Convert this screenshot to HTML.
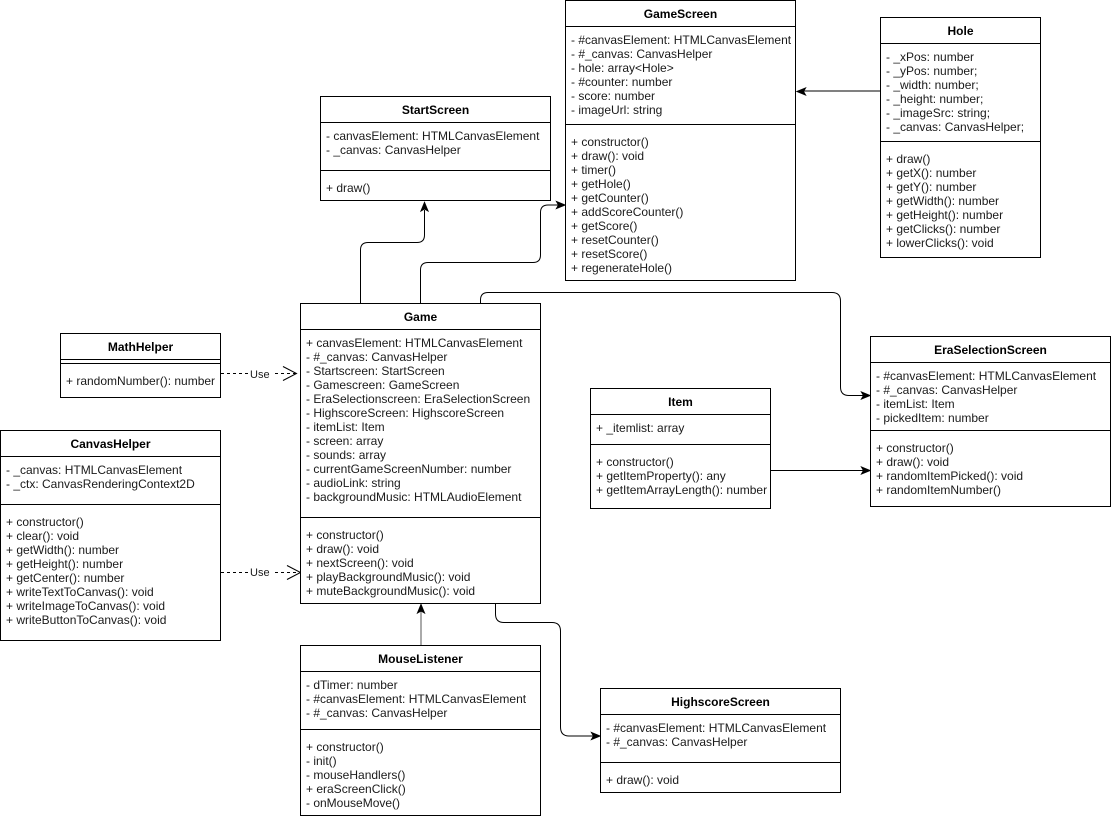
<!DOCTYPE html>
<html>
<head>
<meta charset="utf-8">
<style>
html,body{margin:0;padding:0;background:#fff;width:1111px;height:819px;overflow:hidden}
svg{display:block}
text{font-family:"Liberation Sans",Arial,sans-serif;font-size:12px;fill:#1a1a1a}
text.t{font-weight:bold;text-anchor:middle;fill:#000}
.b{fill:#fff;stroke:#000;stroke-width:1}
.l{stroke:#000;stroke-width:1;fill:none}
.a{fill:#000;stroke:#000;stroke-width:1}
</style>
</head>
<body>
<svg width="1111" height="819" viewBox="0 0 1111 819" xmlns="http://www.w3.org/2000/svg">
<!-- connectors -->
<path class="l" d="M360.5 303V250Q360.5 242.5 368 242.5H417Q424.5 242.5 424.5 235V210"/>
<path class="a" d="M424.5 202.500L428 211L424.500 209L421 211Z"/>
<path class="l" d="M420.500 303V270Q420.500 262.500 428 262.500H533Q540.500 262.500 540.500 255V212.500Q540.500 205 548 205H558"/>
<path class="a" d="M565 205L556.500 208.500L558.500 205L556.500 201.500Z"/>
<path class="l" d="M480.500 303V300Q480.500 292.500 488 292.500H832Q840.500 292.500 840.500 301V387Q840.500 395.500 849 395.500H863"/>
<path class="a" d="M870 395.500L861.500 399L863.500 395.500L861.500 392Z"/>
<path class="l" d="M771 470.500H863"/>
<path class="a" d="M870 470.500L861.500 474L863.500 470.500L861.500 467Z"/>
<path class="l" d="M880 91H804"/>
<path class="a" d="M797 91.500L805.500 88L803.500 91.500L805.500 95Z"/>
<path class="l" style="stroke:#555" d="M421 645V611"/>
<path class="a" d="M421 604.500L424.500 613L421 611L417.500 613Z"/>
<path class="l" d="M495.500 604V614Q495.500 622.500 504 622.500H552Q560.500 622.500 560.500 631V727Q560.500 736 569 736H593"/>
<path class="a" d="M600 736L591.500 739.500L593.500 736L591.500 732.500Z"/>
<path class="l" stroke-dasharray="3 3" d="M221 373.500H297"/>
<path class="l" d="M283 366.500L296.500 373.500L283 380.500"/>
<path class="l" stroke-dasharray="3 3" d="M221 572.500H299"/>
<path class="l" d="M287 565.500L300.500 572.500L287 579.500"/>
<rect x="249" y="366" width="24" height="14" fill="#fff"/>
<text x="250" y="378" style="font-size:11px">Use</text>
<rect x="249" y="565" width="24" height="14" fill="#fff"/>
<text x="250" y="576" style="font-size:11px">Use</text>

<!-- GameScreen -->
<rect class="b" x="565.500" y="0.500" width="230" height="280"/>
<path class="l" d="M565.500 26.500H795.500M565.500 124.500H795.500"/>
<text class="t" x="680.500" y="18">GameScreen</text>
<text x="571" y="44">- #canvasElement: HTMLCanvasElement</text>
<text x="571" y="58">- #_canvas: CanvasHelper</text>
<text x="571" y="72">- hole: array&lt;Hole&gt;</text>
<text x="571" y="86">- #counter: number</text>
<text x="571" y="100">- score: number</text>
<text x="571" y="114">- imageUrl: string</text>
<text x="571" y="146">+ constructor()</text>
<text x="571" y="160">+ draw(): void</text>
<text x="571" y="174">+ timer()</text>
<text x="571" y="188">+ getHole()</text>
<text x="571" y="202">+ getCounter()</text>
<text x="571" y="216">+ addScoreCounter()</text>
<text x="571" y="230">+ getScore()</text>
<text x="571" y="244">+ resetCounter()</text>
<text x="571" y="258">+ resetScore()</text>
<text x="571" y="272">+ regenerateHole()</text>

<!-- Hole -->
<rect class="b" x="880.500" y="17.500" width="160" height="240"/>
<path class="l" d="M880.500 43.500H1040.500M880.500 141.500H1040.500"/>
<text class="t" x="960.500" y="35">Hole</text>
<text x="886" y="61">- _xPos: number</text>
<text x="886" y="75">- _yPos: number;</text>
<text x="886" y="89">- _width: number;</text>
<text x="886" y="103">- _height: number;</text>
<text x="886" y="117">- _imageSrc: string;</text>
<text x="886" y="131">- _canvas: CanvasHelper;</text>
<text x="886" y="163">+ draw()</text>
<text x="886" y="177">+ getX(): number</text>
<text x="886" y="191">+ getY(): number</text>
<text x="886" y="205">+ getWidth(): number</text>
<text x="886" y="219">+ getHeight(): number</text>
<text x="886" y="233">+ getClicks(): number</text>
<text x="886" y="247">+ lowerClicks(): void</text>

<!-- StartScreen -->
<rect class="b" x="320.500" y="96.500" width="230" height="104"/>
<path class="l" d="M320.500 122.500H550.500M320.500 170.500H550.500"/>
<text class="t" x="435.500" y="114">StartScreen</text>
<text x="326" y="140">- canvasElement: HTMLCanvasElement</text>
<text x="326" y="154">- _canvas: CanvasHelper</text>
<text x="326" y="192">+ draw()</text>

<!-- Game -->
<rect class="b" x="300.500" y="303.500" width="240" height="300"/>
<path class="l" d="M300.500 329.500H540.500M300.500 517.500H540.500"/>
<text class="t" x="420.500" y="321">Game</text>
<text x="306" y="347">+ canvasElement: HTMLCanvasElement</text>
<text x="306" y="361">- #_canvas: CanvasHelper</text>
<text x="306" y="375">- Startscreen: StartScreen</text>
<text x="306" y="389">- Gamescreen: GameScreen</text>
<text x="306" y="403">- EraSelectionscreen: EraSelectionScreen</text>
<text x="306" y="417">- HighscoreScreen: HighscoreScreen</text>
<text x="306" y="431">- itemList: Item</text>
<text x="306" y="445">- screen: array</text>
<text x="306" y="459">- sounds: array</text>
<text x="306" y="473">- currentGameScreenNumber: number</text>
<text x="306" y="487">- audioLink: string</text>
<text x="306" y="501">- backgroundMusic: HTMLAudioElement</text>
<text x="306" y="539">+ constructor()</text>
<text x="306" y="553">+ draw(): void</text>
<text x="306" y="567">+ nextScreen(): void</text>
<text x="306" y="581">+ playBackgroundMusic(): void</text>
<text x="306" y="595">+ muteBackgroundMusic(): void</text>

<!-- MathHelper -->
<rect class="b" x="60.500" y="333.500" width="160" height="64"/>
<path class="l" d="M60.500 359.500H220.500M60.500 363.500H220.500"/>
<text class="t" x="140.500" y="351">MathHelper</text>
<text x="66" y="385">+ randomNumber(): number</text>

<!-- CanvasHelper -->
<rect class="b" x="0.500" y="430.500" width="220" height="210"/>
<path class="l" d="M0.500 456.500H220.500M0.500 504.500H220.500"/>
<text class="t" x="110.500" y="448">CanvasHelper</text>
<text x="6" y="474">- _canvas: HTMLCanvasElement</text>
<text x="6" y="488">- _ctx: CanvasRenderingContext2D</text>
<text x="6" y="526">+ constructor()</text>
<text x="6" y="540">+ clear(): void</text>
<text x="6" y="554">+ getWidth(): number</text>
<text x="6" y="568">+ getHeight(): number</text>
<text x="6" y="582">+ getCenter(): number</text>
<text x="6" y="596">+ writeTextToCanvas(): void</text>
<text x="6" y="610">+ writeImageToCanvas(): void</text>
<text x="6" y="624">+ writeButtonToCanvas(): void</text>

<!-- EraSelectionScreen -->
<rect class="b" x="870.500" y="336.500" width="240" height="170"/>
<path class="l" d="M870.500 362.500H1110.500M870.500 430.500H1110.500"/>
<text class="t" x="990.500" y="354">EraSelectionScreen</text>
<text x="876" y="380">- #canvasElement: HTMLCanvasElement</text>
<text x="876" y="394">- #_canvas: CanvasHelper</text>
<text x="876" y="408">- itemList: Item</text>
<text x="876" y="422">- pickedItem: number</text>
<text x="876" y="452">+ constructor()</text>
<text x="876" y="466">+ draw(): void</text>
<text x="876" y="480">+ randomItemPicked(): void</text>
<text x="876" y="494">+ randomItemNumber()</text>

<!-- Item -->
<rect class="b" x="590.500" y="388.500" width="180" height="120"/>
<path class="l" d="M590.500 414.500H770.500M590.500 444.500H770.500"/>
<text class="t" x="680.500" y="406">Item</text>
<text x="596" y="432">+ _itemlist: array</text>
<text x="596" y="466">+ constructor()</text>
<text x="596" y="480">+ getItemProperty(): any</text>
<text x="596" y="494">+ getItemArrayLength(): number</text>

<!-- MouseListener -->
<rect class="b" x="300.500" y="645.500" width="240" height="170"/>
<path class="l" d="M300.500 671.500H540.500M300.500 729.500H540.500"/>
<text class="t" x="420.500" y="663">MouseListener</text>
<text x="306" y="689">- dTimer: number</text>
<text x="306" y="703">- #canvasElement: HTMLCanvasElement</text>
<text x="306" y="717">- #_canvas: CanvasHelper</text>
<text x="306" y="751">+ constructor()</text>
<text x="306" y="765">- init()</text>
<text x="306" y="779">- mouseHandlers()</text>
<text x="306" y="793">+ eraScreenClick()</text>
<text x="306" y="807">- onMouseMove()</text>

<!-- HighscoreScreen -->
<rect class="b" x="600.500" y="688.500" width="240" height="104"/>
<path class="l" d="M600.500 714.500H840.500M600.500 762.500H840.500"/>
<text class="t" x="720.500" y="706">HighscoreScreen</text>
<text x="606" y="732">- #canvasElement: HTMLCanvasElement</text>
<text x="606" y="746">- #_canvas: CanvasHelper</text>
<text x="606" y="784">+ draw(): void</text>
</svg>
</body>
</html>
